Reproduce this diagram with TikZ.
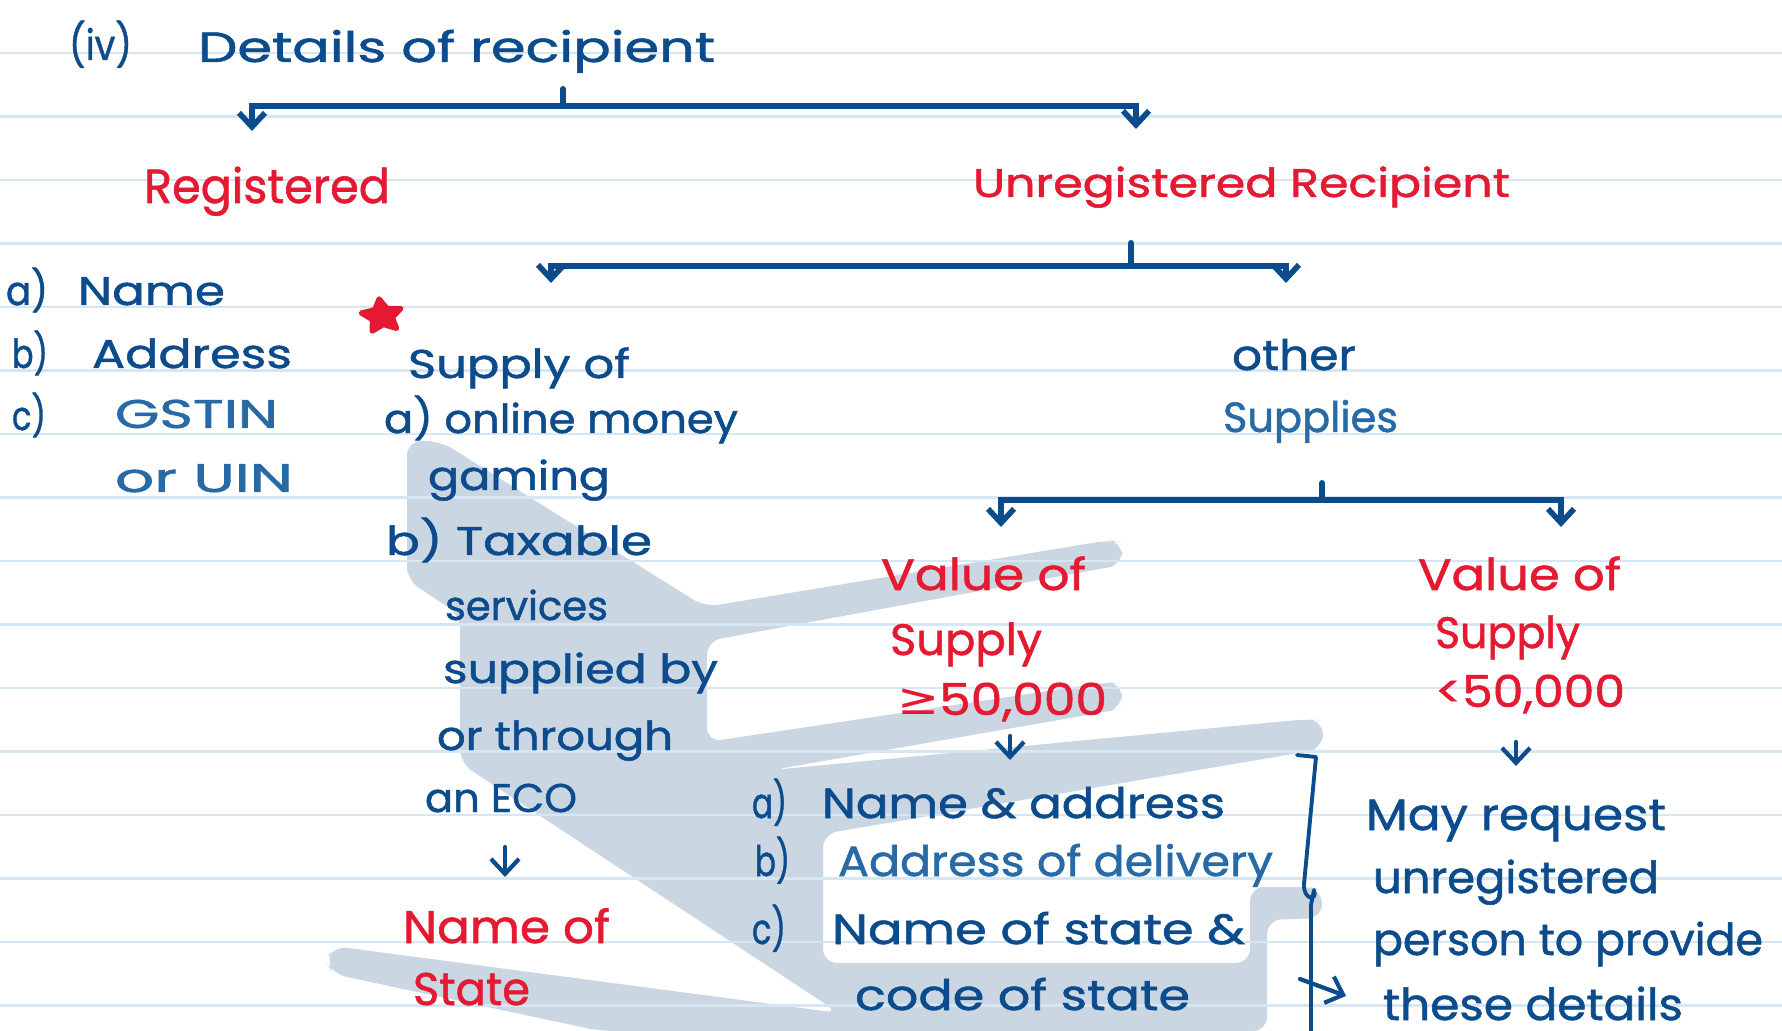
\documentclass[tikz,border=0pt]{standalone}
\usepackage{fontspec}
\usetikzlibrary{arrows.meta,shapes.geometric}
\newfontfamily\hand{Poppins}[FakeBold=1.2]
\newfontfamily\symf{DejaVu Sans}
\definecolor{ink}{RGB}{12,76,140}
\definecolor{inkl}{RGB}{40,106,166}
\definecolor{rd}{RGB}{228,26,50}
\definecolor{rulec}{RGB}{214,230,243}
\definecolor{wm}{RGB}{203,214,227}
\newlength{\pxu}\setlength{\pxu}{0.01cm}
\newsavebox{\hbx}
\newlength{\hbw}
% #1 font size (pt), #2 target width (px), #3 text
\newcommand{\hw}[3]{%
  \sbox{\hbx}{\fontsize{#1}{#1}\selectfont\hand #3}%
  \setlength{\hbw}{\wd\hbx}%
  \pgfmathsetmacro{\hsx}{(#2*\pxu)/\hbw}%
  \scalebox{\hsx}[1]{\usebox{\hbx}}}
\tikzset{
  txt/.style={anchor=base west, inner sep=0pt, outer sep=0pt, text=ink},
  redtxt/.style={txt, text=rd},
  brline/.style={draw=ink, line width=1.7pt, line cap=round},
  brarrow/.style={brline, -{Straight Barb[length=1.4mm,width=2.6mm,line width=1.6pt]}},
  smallarrow/.style={draw=ink, line width=1.2pt, line cap=round, -{Straight Barb[length=1.5mm,width=2.8mm,line width=1.2pt]}},
  thinline/.style={draw=ink, line width=1.1pt, line cap=round, line join=round},
}
\begin{document}
\begin{tikzpicture}[x=0.01cm,y=-0.01cm]
\useasboundingbox (0,0) rectangle (1782,1031);
\fill[white] (0,0) rectangle (1782,1031);
% watermark
\fill[wm, rounded corners=4pt]
 (407,560) -- (407,441) -- (440,441) -- (705,607) -- (1110,540) -- (1122,542) -- (1122,565) -- (1110,567)
 -- (707,641) -- (707,742) -- (1108,682) -- (1122,684) -- (1122,708) -- (1110,711)
 -- (772,770) -- (1308,719) -- (1323,721) -- (1323,748) -- (1310,751)
 -- (823,834) -- (823,963) -- (1250,963) -- (1250,887) -- (1310,887) -- (1322,890) -- (1322,918) -- (1267,920)
 -- (1267,1031) -- (600,1031) -- (333,974) -- (326,962) -- (333,946) -- (839,1013)
 -- (460,763) -- (460,615) -- (407,580) -- cycle;
% ruled lines
\foreach \k in {0,...,15} {
  \draw[rulec, line width=0.6pt] (0,{53+63.5*\k}) -- (1782,{53+63.5*\k});
}
% title
\node[txt] (iv) at (69,60) {\hw{12}{63}{(iv)}};
\node[txt] (title) at (198,62) {\hw{12}{517}{Details of recipient}};
% level 1
\node[redtxt] (reg) at (144,203) {\hw{13.6}{246}{Registered}};
\node[redtxt] (unreg) at (973,197) {\hw{11.4}{537}{Unregistered Recipient}};
\coordinate (t1) at (563,89);
\coordinate (j1) at (563,106);
\coordinate (e1) at (252,131);
\coordinate (e2) at (1136,129);
\draw[brline] (t1) -- (j1);
\draw[brarrow] (j1) -| (e1);
\draw[brarrow] (j1) -| (e2);
% registered list
\node[txt] (la) at (6,305) {\hw{11.4}{42}{a)}};
\node[txt] (lname) at (78,305) {\hw{11.4}{147}{Name}};
\node[txt] (lb) at (12,368) {\hw{11.4}{36}{b)}};
\node[txt] (laddr) at (92,368) {\hw{11.4}{200}{Address}};
\node[txt] (lc) at (12,430) {\hw{11.4}{34}{c)}};
\node[txt, text=inkl] (lgst) at (115,428) {\hw{11.4}{163}{GSTIN}};
\node[txt, text=inkl] (luin) at (115,492) {\hw{11.4}{178}{or UIN}};
% second bracket
\coordinate (t2) at (1131,243);
\coordinate (j2) at (1131,266);
\coordinate (e3) at (551,283);
\coordinate (e4) at (1286,283);
\draw[brline] (t2) -- (j2);
\draw[brarrow] (j2) -| (e3);
\draw[brarrow] (j2) -| (e4);
% star
\node[star, star points=5, star point ratio=2.0, fill=rd, draw=rd, line width=1.5pt, line join=round, minimum size=42\pxu, inner sep=0pt, yscale=0.82, rotate=8] (star1) at (382,316) {};
% online gaming column
\node[txt] (sup) at (408,378) {\hw{11.4}{222}{Supply of}};
\node[txt] (onl) at (384,433) {\hw{11.4}{354}{a) online money}};
\node[txt] (gam) at (428,490) {\hw{11.4}{182}{gaming}};
\node[txt] (tax) at (386,555) {\hw{11.4}{266}{b) Taxable}};
\node[txt] (serv) at (445,620) {\hw{11.4}{163}{services}};
\node[txt] (supby) at (443,683) {\hw{11.4}{275}{supplied by}};
\node[txt] (thr) at (437,750) {\hw{11.4}{236}{or through}};
\node[txt] (eco) at (425,812) {\hw{11.4}{152}{an ECO}};
\coordinate (d1s) at (505,847);
\coordinate (d1e) at (505,877);
\draw[smallarrow] (d1s) -- (d1e);
\node[redtxt] (nos) at (403,943) {\hw{13}{207}{Name of}};
\node[redtxt] (st) at (413,1005) {\hw{13}{117}{State}};
% other supplies
\node[txt] (oth) at (1232,370) {\hw{12}{124}{other}};
\node[txt, text=inkl] (osup) at (1223,432) {\hw{12}{175}{Supplies}};
\coordinate (t3) at (1322,483);
\coordinate (j3) at (1322,500);
\coordinate (e5) at (1001,527);
\coordinate (e6) at (1561,527);
\draw[brline] (t3) -- (j3);
\draw[brarrow] (j3) -| (e5);
\draw[brarrow] (j3) -| (e6);
% left value branch
\node[redtxt] (v1) at (881,590) {\hw{12.5}{205}{Value of}};
\node[redtxt] (s1) at (890,655) {\hw{12.5}{152}{Supply}};
\node[redtxt] (g1) at (897,715) {\hw{12.5}{210}{{\symf ≥}50,000}};
\coordinate (d2s) at (1010,736);
\coordinate (d2e) at (1010,760);
\draw[smallarrow] (d2s) -- (d2e);
\node[txt] (ia) at (752,818) {\hw{12}{35}{a)}};
\node[txt] (ian) at (822,818) {\hw{12}{403}{Name \& address}};
\node[txt] (ib) at (755,876) {\hw{12}{35}{b)}};
\node[txt, text=inkl] (ibn) at (838,876) {\hw{12}{435}{Address of delivery}};
\node[txt] (ic) at (752,944) {\hw{12}{34}{c)}};
\node[txt] (icn) at (832,944) {\hw{12}{413}{Name of state \&}};
\node[txt] (icd) at (855,1010) {\hw{12}{335}{code of state}};
% right value branch
\node[redtxt] (v2) at (1418,590) {\hw{12.5}{203}{Value of}};
\node[redtxt] (s2) at (1435,648) {\hw{12.5}{145}{Supply}};
\node[redtxt] (l2) at (1435,707) {\hw{12.5}{190}{<50,000}};
\coordinate (d3s) at (1516,742);
\coordinate (d3e) at (1516,766);
\draw[smallarrow] (d3s) -- (d3e);
\node[txt] (mr) at (1366,830) {\hw{12.5}{300}{May request}};
\node[txt] (mu) at (1373,893) {\hw{12.5}{286}{unregistered}};
\node[txt] (mp) at (1373,955) {\hw{12.5}{390}{person to provide}};
\node[txt] (mt) at (1383,1020) {\hw{12.5}{300}{these details}};
% bracket
\coordinate (bk1) at (1297,755);
\coordinate (bk2) at (1316,757);
\coordinate (bk3) at (1304,884);
\coordinate (bk4) at (1311,1031);
\draw[thinline] (bk1) -- (bk2) -- (bk3) .. controls (1303,900) and (1318,902) .. (1314,890) -- (1311,905) -- (bk4);
\coordinate (ba1) at (1300,979);
\coordinate (ba2) at (1346,996);
\draw[smallarrow] (ba1) -- (ba2);
\end{tikzpicture}
\end{document}
